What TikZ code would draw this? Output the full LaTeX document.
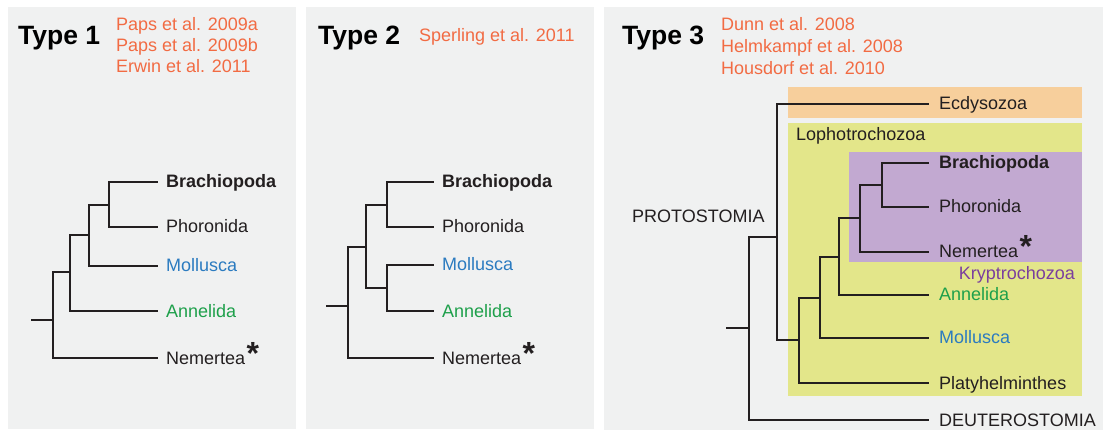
\documentclass[tikz,border=0pt]{standalone}
\usepackage{fontspec}
\setmainfont{Liberation Sans}
\definecolor{panelgray}{HTML}{F0F1F1}
\definecolor{ecdy}{HTML}{F7CF9C}
\definecolor{lopho}{HTML}{E3E68A}
\definecolor{krypto}{HTML}{C2A9D1}
\definecolor{refred}{HTML}{F26B43}
\definecolor{molblue}{HTML}{2B7BC0}
\definecolor{anngreen}{HTML}{1EA04B}
\definecolor{kpurple}{HTML}{7B3F9E}
\definecolor{ink}{HTML}{231F20}
\tikzset{
  panel/.style={fill=panelgray, draw=none},
  br/.style={draw=ink, line width=2.2pt, line cap=rect, line join=miter},
  lab/.style={anchor=base west, inner sep=0pt, font=\fontsize{18}{21}\selectfont, text=ink},
  ttl/.style={anchor=base west, inner sep=0pt, font=\fontsize{26.5}{30}\selectfont\bfseries, text=black},
  ref/.style={anchor=base west, inner sep=0pt, font=\fontsize{18}{21}\selectfont, text=refred},
}
\newcommand{\myast}{\kern1.5pt\raisebox{0pt}{\fontsize{32}{32}\selectfont\bfseries *}}
\begin{document}
\begin{tikzpicture}[x=1pt,y=-1pt]
\useasboundingbox (0,0) rectangle (1103,430);
\fill[white] (0,0) rectangle (1103,430);
% panels
\path[panel] (8,7) rectangle (296,429);
\path[panel] (306,7) rectangle (594,429);
\path[panel] (604,7) rectangle (1103,430);

% ---------------- Type 1 ----------------
\node[ttl] (ty1) at (18,45) {Type 1};
\node[ref] (r1a) at (116,31) {Paps et al. 2009a};
\node[ref] (r1b) at (116,52) {Paps et al. 2009b};
\node[ref] (r1c) at (116,73) {Erwin et al. 2011};

\coordinate (t1r) at (32,320);
\coordinate (t1a) at (53,320);
\coordinate (t1B) at (157,182);
\coordinate (t1P) at (157,227);
\coordinate (t1M) at (157,266);
\coordinate (t1A) at (157,311);
\coordinate (t1N) at (157,358);
\draw[br] (t1r) -- (t1a);
\draw[br] (t1N) -| (53,272) -- (70,272);
\draw[br] (t1A) -| (70,235) -- (89,235);
\draw[br] (t1M) -| (89,205) -- (109,205);
\draw[br] (t1P) -| (109,182) -- (t1B);
\node[lab, font=\fontsize{18}{21}\selectfont\bfseries] (l1B) at (166,188) {Brachiopoda};
\node[lab] (l1P) at (166,233) {Phoronida};
\node[lab, text=molblue] (l1M) at (166,272) {Mollusca};
\node[lab, text=anngreen] (l1A) at (166,317) {Annelida};
\node[lab] (l1N) at (166,364) {Nemertea\myast};

% ---------------- Type 2 ----------------
\node[ttl] (ty2) at (318,45) {Type 2};
\node[ref] (r2a) at (419,42) {Sperling et al. 2011};

\coordinate (t2r) at (327,306);
\coordinate (t2a) at (348,306);
\coordinate (t2B) at (433,182);
\coordinate (t2P) at (433,227);
\coordinate (t2M) at (433,265);
\coordinate (t2A) at (433,311);
\coordinate (t2N) at (433,358);
\draw[br] (t2r) -- (t2a);
\draw[br] (t2N) -| (348,247) -- (366,247);
\draw[br] (387,205) -- (366,205) -- (366,288) -- (387,288);
\draw[br] (t2P) -| (387,182) -- (t2B);
\draw[br] (t2A) -| (387,265) -- (t2M);
\node[lab, font=\fontsize{18}{21}\selectfont\bfseries] (l2B) at (442,188) {Brachiopoda};
\node[lab] (l2P) at (442,233) {Phoronida};
\node[lab, text=molblue] (l2M) at (442,271) {Mollusca};
\node[lab, text=anngreen] (l2A) at (442,317) {Annelida};
\node[lab] (l2N) at (442,364) {Nemertea\myast};

% ---------------- Type 3 ----------------
\node[ttl] (ty3) at (622,45) {Type 3};
\node[ref] (r3a) at (721,31) {Dunn et al. 2008};
\node[ref] (r3b) at (721,53) {Helmkampf et al. 2008};
\node[ref] (r3c) at (721,75) {Housdorf et al. 2010};

\fill[ecdy] (788,87) rectangle (1082,118);
\fill[lopho] (788,123) rectangle (1082,396);
\fill[krypto] (849,152) rectangle (1082,262);

\node[lab] (gLo) at (796,141) {Lophotrochozoa};
\node[lab, anchor=base east, text=kpurple] (gKr) at (1075,280) {Kryptrochozoa};
\node[lab] (gPr) at (632,223) {PROTOSTOMIA};

\coordinate (t3r) at (727,328);
\coordinate (t3a) at (749,328);
\coordinate (t3E) at (928,104);
\coordinate (t3B) at (928,163);
\coordinate (t3P) at (928,207);
\coordinate (t3N) at (928,252);
\coordinate (t3A) at (928,295);
\coordinate (t3M) at (928,338);
\coordinate (t3L) at (928,383);
\coordinate (t3D) at (928,420);
\draw[br] (t3r) -- (t3a);
\draw[br] (t3D) -| (749,237) -- (777,237);
\draw[br] (t3E) -| (777,340) -- (799,340);
\draw[br] (t3L) -| (799,298) -- (820,298);
\draw[br] (t3M) -| (820,257) -- (839,257);
\draw[br] (t3A) -| (839,218) -- (860,218);
\draw[br] (t3N) -| (860,185) -- (882,185);
\draw[br] (t3P) -| (882,163) -- (t3B);

\node[lab] (l3E) at (939,110) {Ecdysozoa};
\node[lab, font=\fontsize{18}{21}\selectfont\bfseries] (l3B) at (939,169) {Brachiopoda};
\node[lab] (l3P) at (939,213) {Phoronida};
\node[lab] (l3N) at (939,258) {Nemertea\myast};
\node[lab, text=anngreen] (l3A) at (939,301) {Annelida};
\node[lab, text=molblue] (l3M) at (939,344) {Mollusca};
\node[lab] (l3L) at (939,389) {Platyhelminthes};
\node[lab] (l3D) at (939,426) {DEUTEROSTOMIA};
\end{tikzpicture}
\end{document}
